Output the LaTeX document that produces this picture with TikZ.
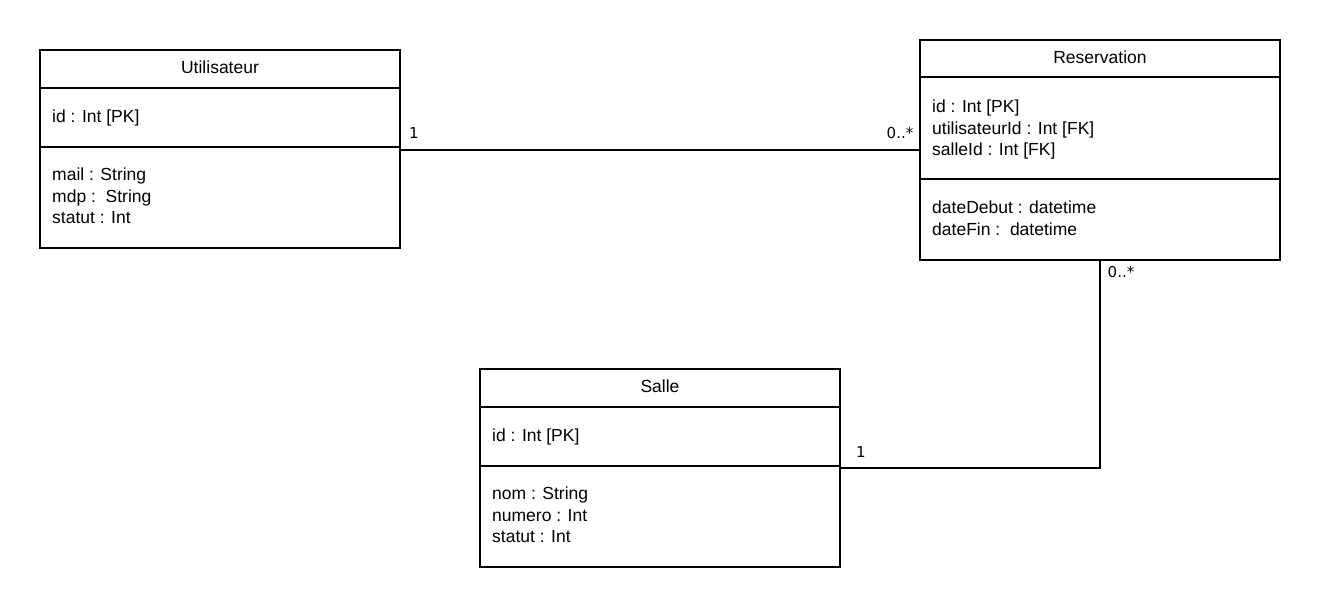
\documentclass[tikz,border=0pt]{standalone}
\usepackage{fontspec}
\setmainfont{Liberation Sans}
\newfontfamily\multfont{DejaVu Sans}
\usepackage{tikz}
\usetikzlibrary{calc}

\begin{document}
\begin{tikzpicture}[
  every node/.style={font=\fontsize{17.5pt}{21.5pt}\selectfont},
  classbox/.style={draw,line width=2pt,minimum width=360pt,inner sep=0pt,outer sep=0pt,anchor=north west},
  classtitle/.style={inner sep=0pt},
  attrs/.style={anchor=north west,align=left,inner sep=0pt},
  mult/.style={inner sep=0pt,font=\multfont\fontsize{15pt}{18pt}\selectfont},
  sepline/.style={line width=2pt},
  link/.style={line width=2pt}
]

\begin{scope}[x=1pt,y=-1pt]
    \useasboundingbox (0,0) rectangle (1320,609);

    % Utilisateur
    \node[classbox,minimum height=198pt] (util) at (40,50) {};
    \node[classtitle] (util-title) at (220,67) {Utilisateur};
    \draw[sepline] (util.west |- 0,88) -- (util.east |- 0,88);
    \draw[sepline] (util.west |- 0,147) -- (util.east |- 0,147);
    \node[attrs] (util-keys) at (52,110) {id : Int [PK]};
    \node[attrs] (util-fields) at (52,168) {mail : String\\mdp :\ \ String\\statut : Int};

    % Reservation
    \node[classbox,minimum height=220pt] (rsv) at (920,40) {};
    \node[classtitle] (rsv-title) at (1100,57) {Reservation};
    \draw[sepline] (rsv.west |- 0,77) -- (rsv.east |- 0,77);
    \draw[sepline] (rsv.west |- 0,179) -- (rsv.east |- 0,179);
    \node[attrs] (rsv-keys) at (932,100) {id : Int [PK]\\utilisateurId : Int [FK]\\salleId : Int [FK]};
    \node[attrs] (rsv-fields) at (932,201) {dateDebut : datetime\\dateFin :\ \ datetime};

    % Salle
    \node[classbox,minimum height=198pt] (salle) at (480,369) {};
    \node[classtitle] (salle-title) at (660,386) {Salle};
    \draw[sepline] (salle.west |- 0,407) -- (salle.east |- 0,407);
    \draw[sepline] (salle.west |- 0,466) -- (salle.east |- 0,466);
    \node[attrs] (salle-keys) at (492,429) {id : Int [PK]};
    \node[attrs] (salle-fields) at (492,487) {nom : String\\numero : Int\\statut : Int};

    % associations
    \draw[link] (util.east |- 0,150) -- (rsv.west |- 0,150);
    \draw[link] (salle.east |- 0,468) -| (rsv.south);

    \node[mult] (util-mult) at (414,133) {1};
    \node[mult] (rsv-mult-a) at (900,133) {0..*};
    \node[mult] (salle-mult) at (861,452) {1};
    \node[mult] (rsv-mult-b) at (1121,272) {0..*};
\end{scope}

\end{tikzpicture}
\end{document}
